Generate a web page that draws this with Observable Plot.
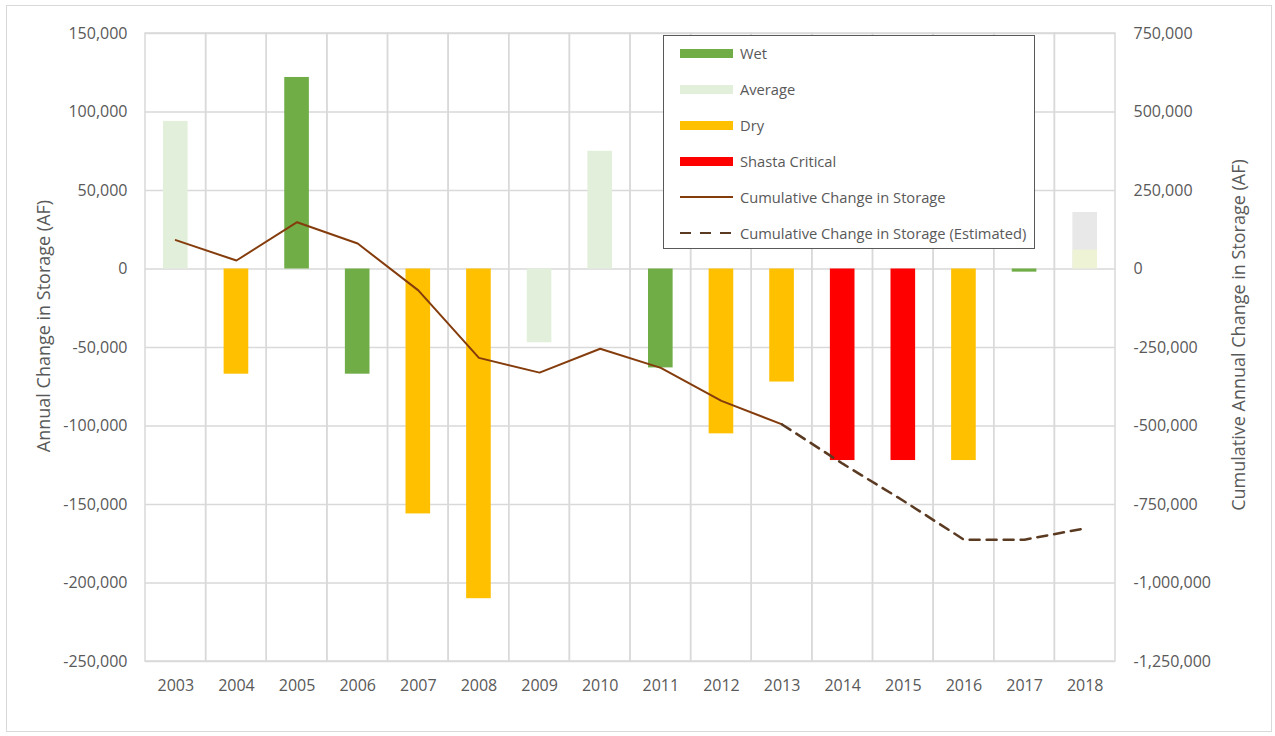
<!DOCTYPE html>
<html>
<head>
<meta charset="utf-8">
<script src="https://cdn.jsdelivr.net/npm/d3@7"></script>
<script src="https://cdn.jsdelivr.net/npm/@observablehq/plot@0.6"></script>
<style>
  html, body { margin: 0; padding: 0; background: #fff; }
  #wrap { position: relative; width: 1275px; height: 736px; overflow: hidden; font-family: "Open Sans", sans-serif; color: #595959; }
  #frame { position: absolute; left: 6px; top: 5px; width: 1264px; height: 725px; border: 1px solid #d9d9d9; pointer-events: none; }
  .ytitle { position: absolute; white-space: nowrap; font-size: 18px; transform: translate(-50%, -50%) rotate(-90deg); }
  #legend { position: absolute; left: 663px; top: 35px; width: 370px; height: 212px; border: 1.5px solid #595959; background: #fff; }
  .item { position: absolute; left: 16px; height: 20px; display: flex; align-items: center; font-size: 14.7px; white-space: nowrap; }
  .sw { width: 53px; height: 9px; margin-right: 7px; }
  .ln { width: 53px; height: 0; margin-right: 7px; border-top: 2px solid #843C0C; }
  .dash { width: 53px; height: 2px; margin-right: 7px; background: repeating-linear-gradient(to right, #5b3a22 0 11px, transparent 11px 20px); }
</style>
</head>
<body>
<div id="wrap"></div>
<script>
const years = ["2003","2004","2005","2006","2007","2008","2009","2010","2011","2012","2013","2014","2015","2016","2017","2018"];
const annualChange = [94000, -67000, 122000, -67000, -156000, -210000, -47000, 75000, -63000, -105000, -72000, -122000, -122000, -122000, -2000, 36000];
const yearType = ["Average","Dry","Wet","Wet","Dry","Dry","Average","Average","Wet","Dry","Dry","Shasta Critical","Shasta Critical","Dry","Wet","Unclassified"];
const cumulative = [92000, 27000, 149000, 81000, -68000, -283000, -330000, -254000, -315000, -420000, -495000, -620000, -738000, -862000, -862000, -826000];
const lightBaseYears = ["2018"];
const lightBaseValues = [12000];
const typeNames = ["Wet","Average","Dry","Shasta Critical","Unclassified"];
const typeColors = ["#70AD47","#E2EFDA","#FFC000","#FF0000","#E8E8E8"];
const leftTicks = [-250000,-200000,-150000,-100000,-50000,0,50000,100000,150000];
const leftDomain = [-250000, 150000];
const rightScale = 5; // right axis = left axis x 5

const bars = years.map((y, i) => ({year: y, value: annualChange[i], type: yearType[i]}));
const cum = years.map((y, i) => ({year: y, cum: cumulative[i]}));
const solidPart = cum.slice(0, 11);
const dashedPart = cum.slice(10);
const lightBase = lightBaseYears.map((y, i) => ({year: y, value: lightBaseValues[i]}));
const locale = d3.formatLocale({decimal: ".", thousands: ",", grouping: [3], currency: ["$", ""], minus: "-"});
const fmt = locale.format(",");

const chart = Plot.plot({
  width: 1275, height: 736,
  marginLeft: 145, marginRight: 160, marginTop: 33, marginBottom: 75,
  style: {fontFamily: "Open Sans, sans-serif", fontSize: "16px", color: "#595959", background: "transparent"},
  x: {type: "band", domain: years, padding: 0, round: false, insetLeft: 0, insetRight: 0, label: null},
  y: {domain: leftDomain, insetTop: 0, insetBottom: 0, label: null},
  color: {domain: typeNames, range: typeColors},
  marks: [
    Plot.ruleY(leftTicks, {stroke: "#d9d9d9", strokeWidth: 1.5}),
    Plot.barY(years, {x: d => d, y1: leftDomain[0], y2: leftDomain[1], fill: "none", stroke: "#d9d9d9", strokeWidth: 1.5}),
    Plot.barY(bars, {x: "year", y: "value", fill: "type", insetLeft: 18, insetRight: 18}),
    Plot.barY(lightBase, {x: "year", y: "value", fill: "#EEF3D6", insetLeft: 18, insetRight: 18}),
    Plot.line(solidPart, {x: "year", y: d => d.cum / rightScale, stroke: "#843C0C", strokeWidth: 2}),
    Plot.line(dashedPart, {x: "year", y: d => d.cum / rightScale, stroke: "#5b3a22", strokeWidth: 2.5, strokeDasharray: "10,7"}),
    Plot.axisY({anchor: "left", ticks: leftTicks, tickFormat: fmt, tickSize: 0, tickPadding: 18, label: null}),
    Plot.axisY({anchor: "right", ticks: leftTicks, tickFormat: d => fmt(d * rightScale), tickSize: 0, tickPadding: 18, label: null}),
    Plot.axisX({tickSize: 0, tickPadding: 18, label: null})
  ]
});

const wrap = document.getElementById("wrap");
wrap.appendChild(chart);

const lt = document.createElement("div");
lt.className = "ytitle"; lt.style.left = "43px"; lt.style.top = "326px";
lt.textContent = "Annual Change in Storage (AF)";
wrap.appendChild(lt);
const rt = document.createElement("div");
rt.className = "ytitle"; rt.style.left = "1238px"; rt.style.top = "335px";
rt.textContent = "Cumulative Annual Change in Storage (AF)";
wrap.appendChild(rt);

const legend = document.createElement("div");
legend.id = "legend";
const legendItems = [
  {label: "Wet", kind: "sw", color: typeColors[0]},
  {label: "Average", kind: "sw", color: typeColors[1]},
  {label: "Dry", kind: "sw", color: typeColors[2]},
  {label: "Shasta Critical", kind: "sw", color: typeColors[3]},
  {label: "Cumulative Change in Storage", kind: "ln"},
  {label: "Cumulative Change in Storage (Estimated)", kind: "dash"}
];
legendItems.forEach((it, i) => {
  const row = document.createElement("div");
  row.className = "item";
  row.style.top = (7 + i * 36) + "px";
  const s = document.createElement("span");
  s.className = it.kind;
  if (it.kind === "sw") s.style.background = it.color;
  row.appendChild(s);
  const t = document.createElement("span");
  t.textContent = it.label;
  row.appendChild(t);
  legend.appendChild(row);
});
wrap.appendChild(legend);

const frame = document.createElement("div");
frame.id = "frame";
wrap.appendChild(frame);
</script>
</body>
</html>
